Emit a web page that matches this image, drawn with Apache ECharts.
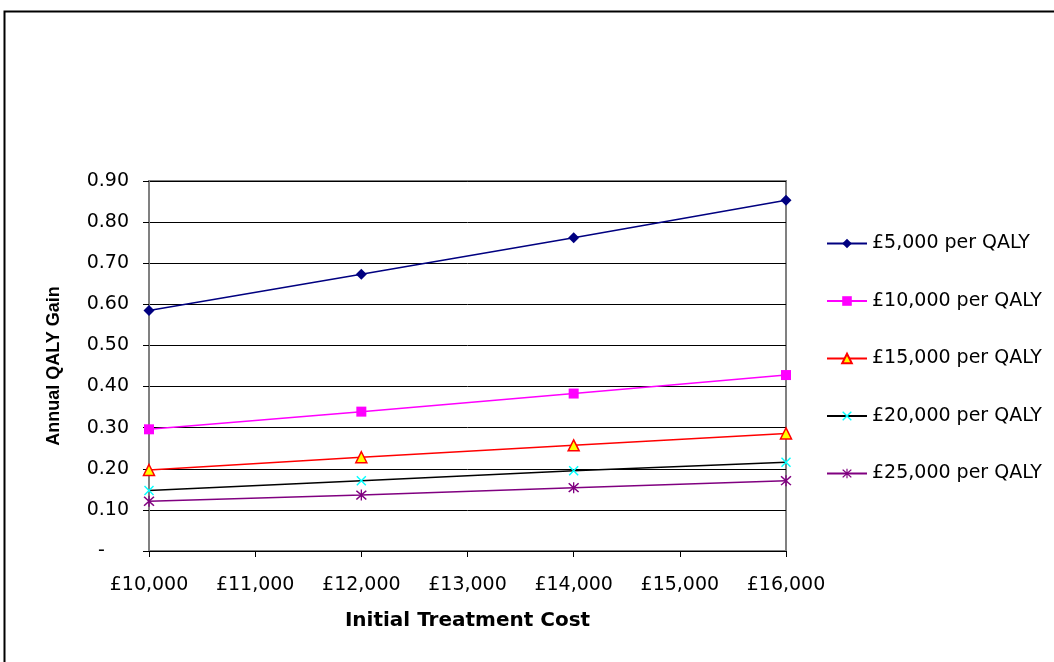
<!DOCTYPE html>
<html>
<head>
<meta charset="utf-8">
<title>Annual QALY Gain vs Initial Treatment Cost</title>
<script src="https://cdn.jsdelivr.net/npm/echarts@6/dist/echarts.min.js"></script>
<style>
  html, body { margin: 0; padding: 0; background: #fff; }
  #chart { width: 1054px; height: 662px; }
</style>
</head>
<body>
<div id="chart"></div>
<script>
// Initial treatment cost (x values)
const costs = [10000, 12000, 14000, 16000];

// Annual QALY gain needed at each cost-per-QALY threshold
const per5000  = [0.585, 0.673, 0.762, 0.853];
const per10000 = [0.296, 0.339, 0.383, 0.428];
const per15000 = [0.197, 0.228, 0.257, 0.286];
const per20000 = [0.147, 0.171, 0.195, 0.216];
const per25000 = [0.121, 0.136, 0.154, 0.171];

const seriesNames = ['£5,000 per QALY', '£10,000 per QALY', '£15,000 per QALY', '£20,000 per QALY', '£25,000 per QALY'];

// y-axis tick values
const yTicks = [0, 0.1, 0.2, 0.3, 0.4, 0.5, 0.6, 0.7, 0.8, 0.9];

const FONT = '"DejaVu Sans", "Liberation Sans", Arial, sans-serif';
const TITLE_FONT = '"Liberation Sans", Arial, sans-serif';

// Marker shapes drawn as filled outlines
const crossPath = 'path://M1,0 L5,4 L9,0 L10,1 L6,5 L10,9 L9,10 L5,6 L1,10 L0,9 L4,5 L0,1 Z';
const asteriskPath = 'path://M1,0 L5,4 L9,0 L10,1 L6,5 L10,9 L9,10 L5,6 L1,10 L0,9 L4,5 L0,1 Z M4.4,-0.6 L5.6,-0.6 L5.6,10.6 L4.4,10.6 Z';

function pairs(values) {
  return costs.map((c, i) => [c, values[i]]);
}

function lineSeries(name, values, lineColor, symbol, size, itemStyle) {
  return {
    name: name,
    type: 'line',
    data: pairs(values),
    symbol: symbol,
    symbolSize: size,
    showAllSymbol: true,
    lineStyle: { color: lineColor, width: 1.5 },
    itemStyle: itemStyle,
    emphasis: { disabled: true },
    animation: false,
    z: 3
  };
}

const chart = echarts.init(document.getElementById('chart'), null, { renderer: 'canvas' });

chart.setOption({
  backgroundColor: '#ffffff',
  animation: false,
  textStyle: { fontFamily: FONT },
  graphic: [{
    type: 'rect',
    shape: { x: 4.5, y: 11.5, width: 1100, height: 700 },
    style: { fill: 'none', stroke: '#000', lineWidth: 2 },
    silent: true, z: -10
  }],
  grid: {
    left: 149, right: 268, top: 181, bottom: 111,
    show: true,
    borderColor: '#808080',
    borderWidth: 2,
    backgroundColor: 'transparent'
  },
  legend: {
    orient: 'vertical',
    left: 826,
    top: 234,
    padding: 0,
    itemWidth: 40,
    itemHeight: 12,
    itemGap: 38.5,
    data: seriesNames,
    textStyle: { fontFamily: FONT, fontSize: 19, color: '#000' },
    selectedMode: false
  },
  xAxis: {
    type: 'value',
    min: 10000, max: 16000, interval: 1000,
    name: 'Initial Treatment Cost',
    nameLocation: 'middle',
    nameGap: 60,
    nameTextStyle: { fontFamily: FONT, fontSize: 20, fontWeight: 'bold', color: '#000' },
    axisLine: { show: true, onZero: false, lineStyle: { color: '#000', width: 1 } },
    axisTick: { show: true, length: 6, lineStyle: { color: '#000' } },
    axisLabel: {
      fontFamily: FONT, fontSize: 19, color: '#000', margin: 25,
      formatter: v => '£' + v.toLocaleString('en-GB')
    },
    splitLine: { show: false }
  },
  yAxis: {
    type: 'value',
    min: yTicks[0], max: yTicks[yTicks.length - 1], interval: 0.1,
    name: 'Annual QALY Gain',
    nameLocation: 'middle',
    nameGap: 86,
    nameRotate: 90,
    nameTextStyle: { fontFamily: TITLE_FONT, fontSize: 18, fontWeight: 'bold', color: '#000' },
    axisLine: { show: true, lineStyle: { color: '#808080', width: 2 } },
    axisTick: { show: true, length: 6, lineStyle: { color: '#000' } },
    axisLabel: {
      fontFamily: FONT, fontSize: 19, color: '#000', margin: 20,
      // zero is shown as a dash, set in from the right like the other figures
      formatter: v => (Math.abs(v) < 1e-9 ? '-    ' : v.toFixed(2))
    },
    splitLine: { show: true, lineStyle: { color: '#000', width: 1 } }
  },
  series: [
    lineSeries(seriesNames[0], per5000, '#000080', 'diamond', 11, { color: '#000080' }),
    lineSeries(seriesNames[1], per10000, '#ff00ff', 'rect', 10, { color: '#ff00ff' }),
    lineSeries(seriesNames[2], per15000, '#ff0000', 'triangle', 11, { color: '#ffff00', borderColor: '#ff0000', borderWidth: 1.5 }),
    lineSeries(seriesNames[3], per20000, '#000000', crossPath, 10, { color: '#00ffff' }),
    lineSeries(seriesNames[4], per25000, '#800080', asteriskPath, 11, { color: '#800080' })
  ]
});
</script>
</body>
</html>
